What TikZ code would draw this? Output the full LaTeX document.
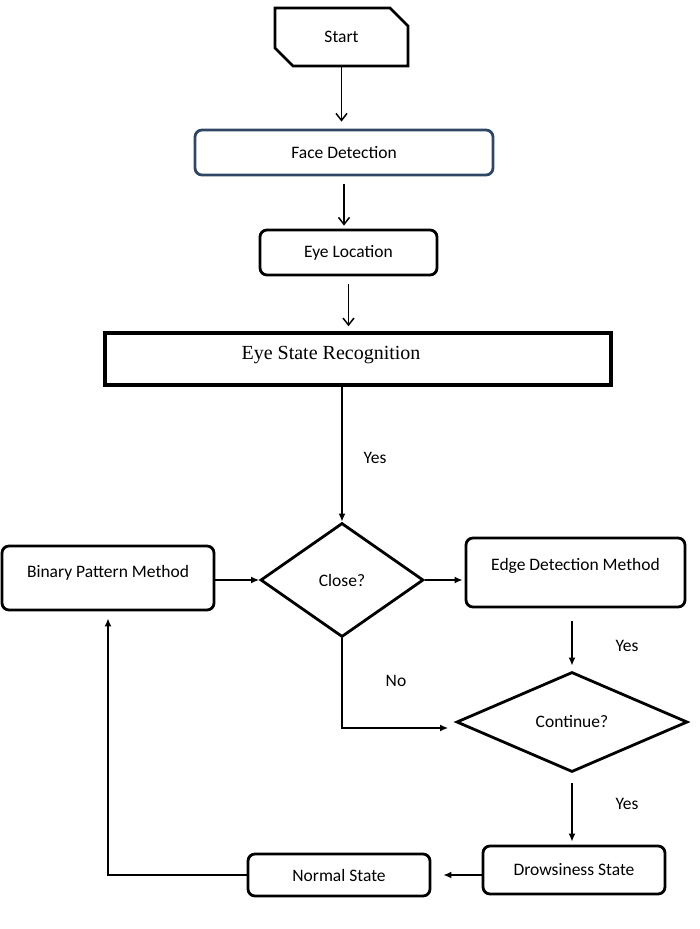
\documentclass[tikz,border=0pt]{standalone}
\usepackage{fontspec}
\setmainfont{Carlito}
\newfontfamily\serifface{Liberation Serif}
\usetikzlibrary{arrows.meta, shapes.geometric, shapes.misc}
\definecolor{faceblue}{RGB}{47,70,100}

\begin{document}
\begin{tikzpicture}[x=1pt, y=-1pt, >={Latex[length=8pt,width=7pt]},
  box/.style={draw, line width=2.8pt, rounded corners=7pt, font=\fontsize{17.5}{21}\selectfont},
  test/.style={diamond, draw, line width=2.8pt, inner sep=0pt, font=\fontsize{17.5}{21}\selectfont},
  lbl/.style={font=\fontsize{17.5}{21}\selectfont},
  flow/.style={line width=1.5pt},
  open/.style={-{Straight Barb[length=7pt,width=11pt]}}]
  \useasboundingbox (0,0) rectangle (699,929);

  \node[box, rounded corners=0pt, chamfered rectangle, chamfered rectangle corners={north east,south west},
        chamfered rectangle sep=9pt, minimum width=133pt, minimum height=58pt] (Start) at (341.5,37) {Start};
  \node[box, draw=faceblue, minimum width=298pt, minimum height=45pt] (Face) at (344,152.5) {Face Detection};
  \node[box, minimum width=177pt, minimum height=45pt] (Eye) at (348.5,252.5) {Eye Location};
  \node[draw, line width=3.5pt, minimum width=506pt, minimum height=52pt,
        label={[font=\serifface\fontsize{20}{24}\selectfont, xshift=-27pt, yshift=4pt]center:Eye State Recognition}] (ESR) at (358,359) {};

  % decision row
  \node[test, minimum width=163pt, minimum height=114pt] (Close) at (342,580) {Close?};
  \node[box, minimum width=212pt, minimum height=64pt, text depth=14pt] (BPM) at (108,578) {Binary Pattern Method};
  \node[box, minimum width=219pt, minimum height=69pt, text depth=17pt] (EDM) at (575.5,572.5) {Edge Detection Method};
  \node[test, minimum width=231pt, minimum height=100pt] (Cont) at (572,722) {Continue?};
  \node[box, minimum width=182pt, minimum height=48pt] (Drowsy) at (574,870) {Drowsiness State};
  \node[box, minimum width=182pt, minimum height=42pt] (Normal) at (339,875) {Normal State};

  \node[lbl] (Yes1) at (375,458) {Yes};
  \node[lbl] (Yes2) at (627,646) {Yes};
  \node[lbl] (Yes3) at (627,804) {Yes};
  \node[lbl] (No) at (396,681) {No};

  \draw[flow, open, shorten >=7pt] (Start.south) -- (Start.south |- Face.north);
  \draw[flow, open, shorten <=8pt, shorten >=3pt] (Face.south) -- (Face.south |- Eye.north);
  \draw[flow, open, shorten <=8pt, shorten >=5pt] (Eye.south) -- (Eye.south |- ESR.north);
  \draw[flow, ->] (Close.north |- ESR.south) -- (Close.north);
  \draw[flow, ->] (BPM.east |- Close.west) -- (Close.west);
  \draw[flow, ->, shorten >=2pt] (Close.east) -- (Close.east -| EDM.west);
  \draw[flow, ->, shorten <=13pt, shorten >=5pt] (EDM.south -| Cont.north) -- (Cont.north);
  \coordinate (NoEnd) at ([xshift=-7pt, yshift=-6pt]Cont.west);
  \draw[flow, ->] (Close.south) |- (NoEnd);
  \draw[flow, ->, shorten <=10pt, shorten >=3pt] (Cont.south) -- (Cont.south |- Drowsy.north);
  \draw[flow, ->, shorten >=12pt] (Normal.east -| Drowsy.west) -- (Normal.east);
  \draw[flow, ->, shorten >=7pt] (Normal.west) -| (BPM.south);
\end{tikzpicture}
\end{document}
